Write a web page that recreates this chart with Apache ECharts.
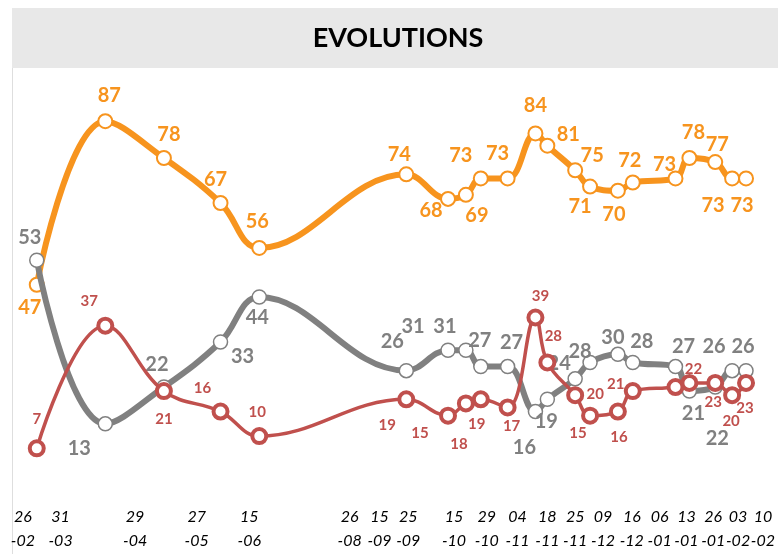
<!DOCTYPE html>
<html>
<head>
<meta charset="utf-8">
<script src="https://cdn.jsdelivr.net/npm/echarts@6/dist/echarts.min.js"></script>
<style>html,body{margin:0;padding:0;background:#fff;}#c{width:778px;height:554px;}</style>
</head>
<body>
<div id="c"></div>
<script>
// Irregular date axis: position of each poll on the axis scale (0..778)
const pollPos = [37, 106, 165, 222, 261, 409, 451, 469, 484, 511, 539, 551, 579, 594, 622, 637, 680, 694, 720, 737, 751];
// Series values
const orangeVals = [47, 87, 78, 67, 56, 74, 68, 69, 73, 73, 84, 81, 75, 71, 70, 72, 73, 78, 77, 73, 73];
const grayVals   = [53, 13, 22, 33, 44, 26, 31, 31, 27, 27, 16, 19, 24, 28, 30, 28, 27, 21, 22, 26, 26];
const redVals    = [7, 37, 21, 16, 10, 19, 15, 18, 19, 17, 39, 28, 20, 15, 16, 21, 22, 23, 23, 20, 23];
// Tick labels and their places on the axis scale
const tickLabels = ['26\n-02','31\n-03','29\n-04','27\n-05','15\n-06','26\n-08','15\n-09','25\n-09','15\n-10','29\n-10','04\n-11','18\n-11','25\n-11','09\n-12','16\n-12','06\n-01','13\n-01','26\n-01','03\n-02','10\n-02'];
const tickPos = [23, 61, 136, 198, 251, 352, 382, 411, 457, 490, 521, 551, 579, 607, 636, 664, 691, 718, 743, 768];

// Label offsets (style, kept apart from data)
const orangeOff = [[-7,23],[4,-26],[5,-23],[-5,-23],[-2,-26],[-7,-20],[-17,12],[11,21],[-20,-23],[-10,-25],[0,-28],[21,-11],[17,-15],[-10,20],[-4,24],[-3,-22],[-11,-14],[4,-25],[2,-18],[-19,27],[-4,27]];
const grayOff = [[-7,-23],[-26,25],[-7,-22],[22,15],[-2,21],[-14,-29],[-35,-24],[-21,-24],[-1,-26],[4,-24],[-11,36],[-1,22],[-16,-15],[-10,-11],[-5,-17],[9,-21],[8,-20],[4,22],[2,52],[-18,-24],[-3,-24]];
const redOff = [[0,-29],[-16,-25],[0,28],[-18,-23],[-2,-24],[-19,26],[-28,18],[-7,41],[-4,25],[4,19],[5,-21],[6,-26],[20,-1],[-12,18],[1,26],[-17,-7],[18,-18],null,[-2,19],[-1,26],[-1,25]];

const ORANGE = '#F7941E', GRAY = '#808080', RED = '#C0504D';

function build(vals, offs) {
  return vals.map((v, i) => {
    const o = offs[i];
    return {
      value: [pollPos[i], v],
      label: o ? { offset: o } : { show: false }
    };
  });
}

function series(name, vals, offs, color, lw, bw, fs, z) {
  return {
    name, type: 'line', smooth: 0.4, z,
    data: build(vals, offs),
    lineStyle: { color, width: lw },
    symbol: 'circle', symbolSize: 14,
    itemStyle: { color: '#fff', borderColor: color, borderWidth: bw },
    label: {
      show: true, position: 'inside', color,
      fontFamily: 'Lato', fontWeight: 'bold', fontSize: fs
    },
    emphasis: { disabled: true },
    animation: false
  };
}

const chart = echarts.init(document.getElementById('c'), null, { renderer: 'canvas' });
chart.setOption({
  animation: false,
  backgroundColor: '#fff',
  graphic: [
    { type: 'rect', shape: { x: 12, y: 8, width: 766, height: 60 }, style: { fill: '#e8e8e8' }, z: -10 },
    { type: 'line', shape: { x1: 12.5, y1: 68, x2: 12.5, y2: 554 }, style: { stroke: '#dedede', lineWidth: 1 }, z: -10 }
  ],
  title: {
    text: 'EVOLUTIONS', left: 398, top: 25, padding: 0, textAlign: 'center',
    textStyle: { fontFamily: 'Lato', fontWeight: 'bold', fontSize: 27, color: '#000' }
  },
  grid: { left: 0, right: 0, top: 68, bottom: 77 },
  xAxis: {
    type: 'value', min: 0, max: 778,
    axisLine: { show: false }, axisTick: { show: false }, splitLine: { show: false },
    axisLabel: {
      customValues: tickPos,
      formatter: (v) => { const i = tickPos.indexOf(v); return i >= 0 ? tickLabels[i] : ''; },
      fontFamily: 'Lato', fontStyle: 'italic', fontSize: 16, lineHeight: 24, color: '#000',
      margin: 28, hideOverlap: false
    }
  },
  yAxis: { type: 'value', min: 0, max: 100, show: false },
  series: [
    series('orange', orangeVals, orangeOff, ORANGE, 6, 2, 20, 2),
    series('gray', grayVals, grayOff, GRAY, 6, 1.5, 20, 3),
    series('red', redVals, redOff, RED, 3.5, 4, 15, 4)
  ]
});
</script>
</body>
</html>
